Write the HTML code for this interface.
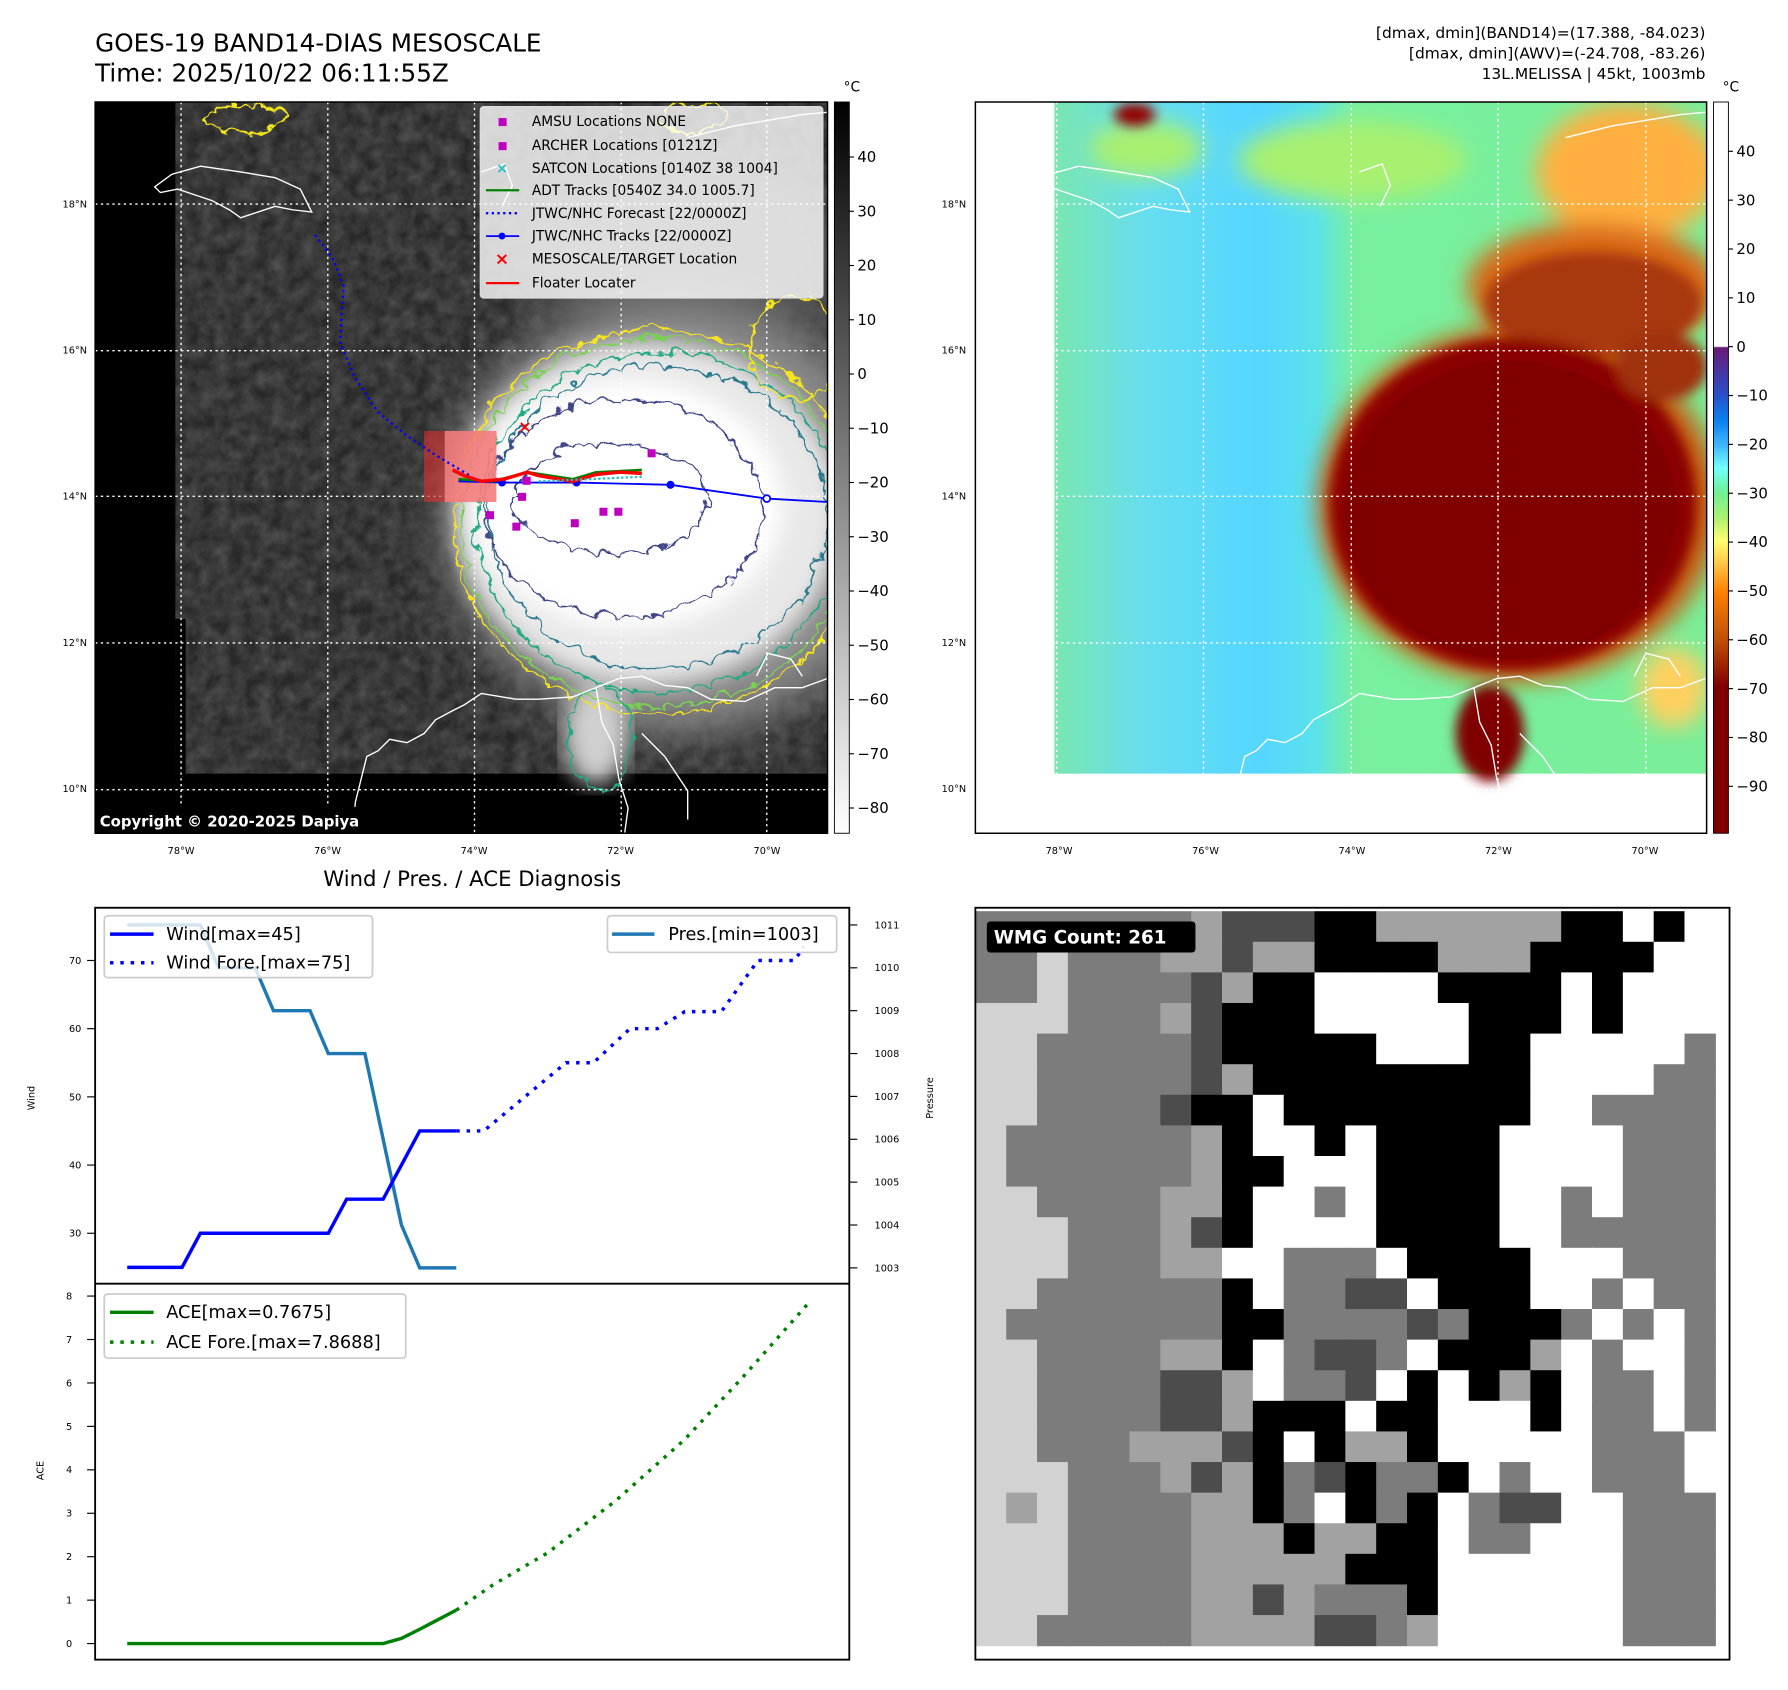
<!DOCTYPE html>
<html><head><meta charset="utf-8">
<style>
html,body{margin:0;padding:0;background:#fff;}
svg{display:block;font-family:"DejaVu Sans","Liberation Sans",sans-serif;}
</style></head>
<body>
<svg id="fig" width="1788" height="1690" viewBox="0 0 1560 1474.5" xmlns="http://www.w3.org/2000/svg">
<defs>
  <filter id="noise" x="0" y="0" width="100%" height="100%">
    <feTurbulence type="fractalNoise" baseFrequency="0.08" numOctaves="3" seed="4" result="n"/>
    <feColorMatrix type="matrix" values="0 0 0 0 0.2  0 0 0 0 0.2  0 0 0 0 0.2  0.7 0 0 0 -0.15" in="n" result="c"/>
    <feComposite in="c" in2="SourceGraphic" operator="in"/>
  </filter>
  <filter id="blur20"><feGaussianBlur stdDeviation="20"/></filter>
  <filter id="blur10"><feGaussianBlur stdDeviation="10"/></filter>
  <filter id="blur5"><feGaussianBlur stdDeviation="5"/></filter>
  <filter id="jag" x="-20%" y="-20%" width="140%" height="140%">
    <feTurbulence type="turbulence" baseFrequency="0.05" numOctaves="2" seed="7" result="t"/>
    <feDisplacementMap in="SourceGraphic" in2="t" scale="14" xChannelSelector="R" yChannelSelector="G"/>
  </filter>
  <linearGradient id="cb1" x1="0" y1="0" x2="0" y2="1">
    <stop offset="0" stop-color="#000"/><stop offset="1" stop-color="#fff"/>
  </linearGradient>
  <linearGradient id="cb2" x1="0" y1="0" x2="0" y2="1">
    <stop offset="0" stop-color="#fff"/><stop offset="0.334" stop-color="#fff"/>
    <stop offset="0.336" stop-color="#6a1a78"/>
    <stop offset="0.40" stop-color="#2a50c8"/>
    <stop offset="0.435" stop-color="#0a80f0"/>
    <stop offset="0.47" stop-color="#40b8ff"/>
    <stop offset="0.50" stop-color="#70ffff"/>
    <stop offset="0.535" stop-color="#70f090"/>
    <stop offset="0.57" stop-color="#b0f070"/>
    <stop offset="0.60" stop-color="#ffff70"/>
    <stop offset="0.635" stop-color="#ffc040"/>
    <stop offset="0.67" stop-color="#ff8000"/>
    <stop offset="0.735" stop-color="#c05008"/>
    <stop offset="0.80" stop-color="#800000"/>
    <stop offset="1" stop-color="#800000"/>
  </linearGradient>
  <linearGradient id="rbase" x1="0" y1="0" x2="1" y2="0">
    <stop offset="0" stop-color="#7ae6b0"/>
    <stop offset="0.14" stop-color="#66def0"/>
    <stop offset="0.32" stop-color="#55d6ff"/>
    <stop offset="0.40" stop-color="#5ae2ea"/>
    <stop offset="0.46" stop-color="#78f0a0"/>
    <stop offset="1" stop-color="#7aee98"/>
  </linearGradient>
  <clipPath id="clipL"><rect x="83" y="89" width="639" height="638"/></clipPath>
  <clipPath id="clipR"><rect x="851" y="89" width="638" height="638"/></clipPath>
</defs>

<text x="83" y="45" font-size="21.5">GOES-19 BAND14-DIAS MESOSCALE</text>
<text x="83" y="71" font-size="21.5">Time: 2025/10/22 06:11:55Z</text>
<g font-size="13.5" text-anchor="end">
  <text x="1488" y="33">[dmax, dmin](BAND14)=(17.388, -84.023)</text>
  <text x="1488" y="51">[dmax, dmin](AWV)=(-24.708, -83.26)</text>
  <text x="1488" y="69">13L.MELISSA | 45kt, 1003mb</text>
</g>

<g clip-path="url(#clipL)">
  <rect x="83" y="89" width="639" height="638" fill="#000"/>
  <rect x="153" y="89" width="569" height="586" fill="#282828"/>
  <rect x="153" y="89" width="569" height="586" fill="#fff" filter="url(#noise)"/>
  <rect x="153" y="540" width="9" height="140" fill="#000"/>
  <ellipse cx="600" cy="220" rx="150" ry="80" fill="#555" filter="url(#blur20)"/>
  <ellipse cx="590" cy="450" rx="200" ry="190" fill="#8a8a8a" filter="url(#blur20)"/>
  <ellipse cx="565" cy="448" rx="168" ry="150" fill="#e8e8e8" filter="url(#blur10)"/>
  <ellipse cx="548" cy="440" rx="135" ry="108" fill="#fff" filter="url(#blur10)"/>
  <ellipse cx="520" cy="640" rx="28" ry="45" fill="#d0d0d0" filter="url(#blur10)"/>
  <g fill="none" stroke-width="1.6" filter="url(#jag)">
    <ellipse cx="570" cy="452" rx="178" ry="168" stroke="#f5e51a"/>
    <ellipse cx="570" cy="452" rx="171" ry="161" stroke="#7ad151"/>
    <ellipse cx="572" cy="452" rx="160" ry="148" stroke="#22a884"/>
    <ellipse cx="570" cy="448" rx="148" ry="132" stroke="#2a788e"/>
    <ellipse cx="540" cy="440" rx="122" ry="95" stroke="#414487"/>
    <ellipse cx="530" cy="432" rx="85" ry="48" stroke="#414487"/>
    <ellipse cx="600" cy="100" rx="30" ry="12" stroke="#f5e51a"/>
    <ellipse cx="210" cy="100" rx="35" ry="12" stroke="#f5e51a"/>
    <ellipse cx="520" cy="640" rx="28" ry="45" stroke="#22a884"/>
    <ellipse cx="690" cy="300" rx="40" ry="45" stroke="#f5e51a"/>
  </g>
  <g stroke="#fff" stroke-width="1.2" stroke-dasharray="2,3">
    <line x1="158" y1="89" x2="158" y2="727"/><line x1="286" y1="89" x2="286" y2="727"/>
    <line x1="414" y1="89" x2="414" y2="727"/><line x1="542" y1="89" x2="542" y2="727"/>
    <line x1="669" y1="89" x2="669" y2="727"/>
    <line x1="83" y1="178" x2="722" y2="178"/><line x1="83" y1="306" x2="722" y2="306"/>
    <line x1="83" y1="433" x2="722" y2="433"/><line x1="83" y1="561" x2="722" y2="561"/>
    <line x1="83" y1="689" x2="722" y2="689"/>
  </g>
  <g id="coastL" fill="none" stroke="#fff" stroke-width="1.2">
    <path d="M135,163 L150,152 L175,145 L210,150 L240,155 L262,165 L272,185 L255,183 L240,180 L225,185 L210,190 L200,183 L185,175 L170,170 L155,165 L140,168 Z"/>
    <path d="M420,150 L440,143 L447,162 L438,180 M600,120 L640,110 L700,100 L722,98"/>
    <path d="M722,592 L700,600 L676,600 L650,612 L620,610 L600,600 L580,598 L560,590 L540,592 L520,600 L500,608 L470,610 L450,610 L420,605 L405,615 L395,620 L380,628 L370,640 L355,648 L340,645 L330,655 L320,660 L315,680 L310,700 L308,727"/>
    <path d="M520,600 L525,630 L535,650 L540,680 L548,705 L545,727 M560,640 L580,660 L600,690 L600,715 M660,590 L670,570 L690,575 L700,590"/>
  </g>
  <rect x="370" y="376" width="63" height="62" fill="#d03030" opacity="0.65"/>
  <rect x="388" y="376" width="45" height="62" fill="#ff9090" opacity="0.7"/>
  <polyline points="275,205 290,225 300,250 298,275 297,300 310,330 330,360 355,380 380,397 410,415" fill="none" stroke="#0000ff" stroke-width="2" stroke-dasharray="2,3"/>
  <polyline points="400,420 438,421 503,421 585,423 669,435 722,438" fill="none" stroke="#0000ff" stroke-width="1.6"/>
  <g fill="#0000ff"><circle cx="438" cy="421" r="3.5"/><circle cx="503" cy="421" r="3.5"/><circle cx="585" cy="423" r="3.5"/></g>
  <circle cx="669" cy="435" r="3" fill="#fff" stroke="#0000ff" stroke-width="1.5"/>
  <polyline points="400,418 430,420 460,412 500,418 520,412 560,410" fill="none" stroke="#008000" stroke-width="2.2"/>
  <polyline points="395,410 405,415 420,420 440,418 460,412 470,415 500,420 520,414 540,412 560,413" fill="none" stroke="#ff0000" stroke-width="3"/>
  <polyline points="470,420 560,416" fill="none" stroke="#20c0c0" stroke-width="2" stroke-dasharray="2,2"/>
  <g fill="#c000c0">
    <rect x="565" y="392" width="7" height="7"/><rect x="452" y="430" width="7" height="7"/>
    <rect x="424" y="446" width="7" height="7"/><rect x="447" y="456" width="7" height="7"/>
    <rect x="498" y="453" width="7" height="7"/><rect x="523" y="443" width="7" height="7"/>
    <rect x="536" y="443" width="7" height="7"/><rect x="456" y="416" width="7" height="7"/>
  </g>
  <text x="458" y="377" font-size="14" fill="#ff0000" text-anchor="middle" font-weight="bold">×</text>
  <g>
    <rect x="419" y="93" width="299" height="167" rx="3" fill="#fff" fill-opacity="0.8" stroke="#ddd"/>
    <g font-size="12">
      <rect x="435" y="103" width="7" height="7" fill="#c000c0"/><text x="464" y="110">AMSU Locations NONE</text>
      <rect x="435" y="124" width="7" height="7" fill="#c000c0"/><text x="464" y="131">ARCHER Locations [0121Z]</text>
      <text x="438" y="151" fill="#20c0c0" text-anchor="middle" font-weight="bold">×</text><text x="464" y="151">SATCON Locations [0140Z 38 1004]</text>
      <line x1="424" y1="166" x2="453" y2="166" stroke="#008000" stroke-width="2"/><text x="464" y="170">ADT Tracks [0540Z 34.0 1005.7]</text>
      <line x1="424" y1="186" x2="453" y2="186" stroke="#0000ff" stroke-width="2" stroke-dasharray="2,3"/><text x="464" y="190">JTWC/NHC Forecast [22/0000Z]</text>
      <line x1="424" y1="206" x2="453" y2="206" stroke="#0000ff" stroke-width="1.6"/><circle cx="438" cy="206" r="3" fill="#0000ff"/><text x="464" y="210">JTWC/NHC Tracks [22/0000Z]</text>
      <text x="438" y="231" fill="#ff0000" text-anchor="middle" font-size="15" font-weight="bold">×</text><text x="464" y="230">MESOSCALE/TARGET Location</text>
      <line x1="424" y1="247" x2="453" y2="247" stroke="#ff0000" stroke-width="2"/><text x="464" y="251">Floater Locater</text>
    </g>
  </g>
  <rect x="83" y="704" width="272" height="23" fill="#000" rx="2"/>
  <text x="87" y="721" font-size="13" fill="#fff" font-weight="bold">Copyright © 2020-2025 Dapiya</text>
</g>
<rect x="83" y="89" width="639" height="638" fill="none" stroke="#000" stroke-width="1.3"/>
<rect x="728" y="89" width="13" height="638" fill="url(#cb1)" stroke="#000" stroke-width="0.8"/>
<text x="736" y="80" font-size="12">°C</text>
<g id="cb1ticks" font-size="13"></g>

<g clip-path="url(#clipR)">
  <rect x="851" y="89" width="638" height="638" fill="#fff"/>
  <rect x="920" y="89" width="569" height="586" fill="url(#rbase)"/>
  <g filter="url(#blur10)">
    <ellipse cx="1000" cy="130" rx="50" ry="25" fill="#a8f070"/>
    <ellipse cx="1180" cy="140" rx="100" ry="35" fill="#a8f070"/>
    <ellipse cx="1420" cy="150" rx="80" ry="60" fill="#ffb040"/>
    <ellipse cx="1390" cy="250" rx="110" ry="55" fill="#d86818"/>
    <ellipse cx="1325" cy="440" rx="175" ry="155" fill="#c85810"/>
    <ellipse cx="1460" cy="600" rx="30" ry="35" fill="#ffd060"/>
  </g>
  <g filter="url(#blur5)">
    <ellipse cx="1390" cy="265" rx="95" ry="45" fill="#a83808"/>
    <ellipse cx="1320" cy="440" rx="160" ry="145" fill="#8a0404"/>
    <ellipse cx="1300" cy="640" rx="30" ry="42" fill="#800000"/>
    <ellipse cx="990" cy="100" rx="18" ry="10" fill="#900000"/>
    <ellipse cx="1450" cy="320" rx="40" ry="30" fill="#a03010"/>
  </g>
  <ellipse cx="1318" cy="445" rx="145" ry="130" fill="#800000"/>
  <g stroke="#fff" stroke-width="1.2" stroke-dasharray="2,3">
    <line x1="922" y1="89" x2="922" y2="727"/><line x1="1050" y1="89" x2="1050" y2="727"/>
    <line x1="1179" y1="89" x2="1179" y2="727"/><line x1="1307" y1="89" x2="1307" y2="727"/>
    <line x1="1436" y1="89" x2="1436" y2="727"/>
    <line x1="851" y1="178" x2="1489" y2="178"/><line x1="851" y1="306" x2="1489" y2="306"/>
    <line x1="851" y1="433" x2="1489" y2="433"/><line x1="851" y1="561" x2="1489" y2="561"/>
    <line x1="851" y1="689" x2="1489" y2="689"/>
  </g>
  <use href="#coastL" transform="translate(766,0)"/>
</g>
<rect x="851" y="89" width="638" height="638" fill="none" stroke="#000" stroke-width="1.3"/>
<rect x="1495" y="89" width="13" height="638" fill="url(#cb2)" stroke="#000" stroke-width="0.8"/>
<text x="1503" y="80" font-size="12">°C</text>
<g id="cb2ticks" font-size="13"></g>

<g id="mapticks" font-size="8.5"></g>

<text x="412" y="773" font-size="18.5" text-anchor="middle">Wind / Pres. / ACE Diagnosis</text>
<rect x="83" y="792" width="658" height="656" fill="#fff" stroke="#000" stroke-width="1.6"/>
<line x1="83" y1="1120" x2="741" y2="1120" stroke="#000" stroke-width="1.6"/>
<g id="chart"></g>
<text transform="translate(30,958) rotate(-90)" font-size="8.5" text-anchor="middle">Wind</text>
<text transform="translate(814,958) rotate(-90)" font-size="8.5" text-anchor="middle">Pressure</text>
<text transform="translate(38,1283) rotate(-90)" font-size="8.5" text-anchor="middle">ACE</text>
<g>
  <rect x="91" y="799" width="234" height="54" rx="3" fill="#fff" fill-opacity="0.8" stroke="#ccc" stroke-width="1.5"/>
  <line x1="96" y1="815" x2="134" y2="815" stroke="#0000ff" stroke-width="3"/>
  <text x="145" y="820" font-size="15.5">Wind[max=45]</text>
  <line x1="96" y1="840" x2="134" y2="840" stroke="#0000ff" stroke-width="3" stroke-dasharray="3,6"/>
  <text x="145" y="845" font-size="15.5">Wind Fore.[max=75]</text>
</g>
<g>
  <rect x="530" y="799" width="200" height="32" rx="3" fill="#fff" fill-opacity="0.8" stroke="#ccc" stroke-width="1.5"/>
  <line x1="534" y1="815" x2="571" y2="815" stroke="#1f77b4" stroke-width="3"/>
  <text x="583" y="820" font-size="15.5">Pres.[min=1003]</text>
</g>
<g>
  <rect x="91" y="1129" width="263" height="56" rx="3" fill="#fff" fill-opacity="0.8" stroke="#ccc" stroke-width="1.5"/>
  <line x1="96" y1="1145" x2="134" y2="1145" stroke="#008000" stroke-width="3"/>
  <text x="145" y="1150" font-size="15.5">ACE[max=0.7675]</text>
  <line x1="96" y1="1171" x2="134" y2="1171" stroke="#008000" stroke-width="3" stroke-dasharray="3,6"/>
  <text x="145" y="1176" font-size="15.5">ACE Fore.[max=7.8688]</text>
</g>

<rect x="851" y="792" width="658" height="656" fill="#fff"/>
<g id="wmg"></g>
<rect x="851" y="792" width="658" height="656" fill="none" stroke="#000" stroke-width="1.6"/>
<rect x="861" y="804" width="182" height="27" rx="3" fill="#000"/>
<text x="867" y="823" font-size="16" font-weight="bold" fill="#fff">WMG Count: 261</text>
</svg>

<script>
const obsHours = [0,6,12,18,24,30,36,42,48,54,60,66,72,78,84,90,96,102,108];
const windObs = [25,25,25,25,30,30,30,30,30,30,30,30,35,35,35,40,45,45,45];
const presObs = [1011,1011,1011,1011,1011,1010,1010,1010,1009,1009,1009,1008,1008,1008,1006,1004,1003,1003,1003];
const aceObs = [0,0,0,0,0,0,0,0,0,0,0,0,0,0,0,0.12,0.33,0.55,0.77];
const windFcstHours = [108,117,144,153,165,174,183,195,207,219,222];
const windFcst = [45,45,55,55,60,60,62.5,62.5,70,70,72];
const aceFcstHours = [108,120,138,160,183,202,224];
const aceFcst = [0.77,1.35,2.09,3.27,4.7,6.13,7.87];
const windTicks = [30,40,50,60,70];
const presTicks = [1003,1004,1005,1006,1007,1008,1009,1010,1011];
const aceTicks = [0,1,2,3,4,5,6,7,8];
const cb1Ticks = [40,30,20,10,0,-10,-20,-30,-40,-50,-60,-70,-80];
const cb2Ticks = [40,30,20,10,0,-10,-20,-30,-40,-50,-60,-70,-80,-90];
const latLabels = ["18°N","16°N","14°N","12°N","10°N"];
const latValues = [18,16,14,12,10];
const lonLabels = ["78°W","76°W","74°W","72°W","70°W"];
const lonValues = [-78,-76,-74,-72,-70];

const NS = "http://www.w3.org/2000/svg";
const xT = h => 111 + h * 15.95 / 6;
const yW = v => 838 + (70 - v) * 5.95;
const yP = p => 807 + (1011 - p) * 37.4;
const yA = a => 1434 - a * 37.9;
const yCb1 = v => 137 + (40 - v) * 4.733;
const yCb2 = v => 132 + (40 - v) * 4.262;
const lonX = lon => 158 + (lon + 78) * 63.9;
const latY = lat => 178 + (18 - lat) * 63.75;

function mk(tag, attrs, parent) {
  const e = document.createElementNS(NS, tag);
  for (const k in attrs) e.setAttribute(k, attrs[k]);
  parent.appendChild(e);
  return e;
}
function pts(xs, ys, fx, fy) { return xs.map((x, i) => fx(x) + "," + fy(ys[i])).join(" "); }

const chart = document.getElementById("chart");
let l;
l = mk("polyline", {points: pts(obsHours, presObs, xT, yP), fill: "none", stroke: "#1f77b4", "stroke-width": 3}, chart);


l = mk("polyline", {points: pts(obsHours, windObs, xT, yW), fill: "none", stroke: "#0000ff", "stroke-width": 3}, chart);


l = mk("polyline", {points: pts(windFcstHours, windFcst, xT, yW), fill: "none", stroke: "#0000ff", "stroke-width": 3, "stroke-dasharray": "3,6"}, chart);


l = mk("polyline", {points: pts(obsHours, aceObs, xT, yA), fill: "none", stroke: "#008000", "stroke-width": 3}, chart);


l = mk("polyline", {points: pts(aceFcstHours, aceFcst, xT, yA), fill: "none", stroke: "#008000", "stroke-width": 3, "stroke-dasharray": "3,6"}, chart);



windTicks.forEach(v => {
  mk("line", {x1: 76, x2: 83, y1: yW(v), y2: yW(v), stroke: "#000"}, chart);
  const t = mk("text", {x: 71, y: yW(v) + 3, "font-size": 8.5, "text-anchor": "end"}, chart);
  t.textContent = v;
  
  
});
presTicks.forEach(v => {
  mk("line", {x1: 741, x2: 748, y1: yP(v), y2: yP(v), stroke: "#000"}, chart);
  const t = mk("text", {x: 763, y: yP(v) + 3, "font-size": 8.5}, chart);
  t.textContent = v;
  
  
});
aceTicks.forEach(v => {
  mk("line", {x1: 76, x2: 83, y1: yA(v), y2: yA(v), stroke: "#000"}, chart);
  const t = mk("text", {x: 63, y: yA(v) + 3, "font-size": 8.5, "text-anchor": "end"}, chart);
  t.textContent = v;
  
  
});

const fmt = v => v < 0 ? "\u2212" + Math.abs(v) : String(v);
const cb1 = document.getElementById("cb1ticks");
cb1Ticks.forEach(v => {
  mk("line", {x1: 741, x2: 745, y1: yCb1(v), y2: yCb1(v), stroke: "#000"}, cb1);
  const t = mk("text", {x: 748, y: yCb1(v) + 4.5}, cb1);
  t.textContent = fmt(v);
  
  
});
const cb2 = document.getElementById("cb2ticks");
cb2Ticks.forEach(v => {
  mk("line", {x1: 1508, x2: 1512, y1: yCb2(v), y2: yCb2(v), stroke: "#000"}, cb2);
  const t = mk("text", {x: 1515, y: yCb2(v) + 4.5}, cb2);
  t.textContent = fmt(v);
  
  
});

const mt = document.getElementById("mapticks");
[0, 766].forEach((off, mi) => {
  latValues.forEach((lat, i) => {
    const t = mk("text", {x: (mi ? 843 : 76), y: latY(lat) + 3, "text-anchor": "end"}, mt);
    t.textContent = latLabels[i];
    
    
  });
  lonValues.forEach((lon, i) => {
    const t = mk("text", {x: lonX(lon) + off, y: 745, "text-anchor": "middle"}, mt);
    t.textContent = lonLabels[i];
    
    
  });
});

const wmgRows = [
"gggggggmddd_KmmmmmmKKWKWW",
"gglgggmmdmmKKKKmmmKKKKWW",
"gglggggdmKKWWWWKKKKWKWWW",
"lllgggmdKKKWWWWWKKKWKWWW",
"llgggggdKKKKKWWWKKWWWWWg",
"llgggggdmKKKKKKKKKWWWWgg",
"llggggdKKWKKKKKKKKWWgggg",
"lggggggmKWWKWKKKKWWWWggg",
"lggggggmKKWWWKKKKWWWWggg",
"llggggmmKWWgWKKKKWWgWggg",
"lllgggmdKWWWWKKKKWWggggg",
"lllgggmmWWgggWKKKKWWWggg",
"llggggggKWggddWKKKWWgWgg",
"lgggggggKKggggdgKKKgWgWgg",
"llggggmmKWgddgWKKKmWgWWg",
"llggggddmWggdWKWKmKWggWg",
"llggggddmKKKWKKWWWKWggWg",
"llgggmmmdKWKmmKWWWWWgggW",
"lllgggmdmKgdKggKWgWWgggW",
"lmlggggmmKgWKgKWgddWWggg",
"lllggggmmmKmmKKWggWWWggg",
"lllggggmmmmmKKKWWWWWWggg",
"lllggggmmdmgggKWWWWWWggg",
"llgggggmmmmddgmWWWWWWggg"
];
const wmgColors = {l:"#d2d2d2", g:"#7c7c7c", m:"#a2a2a2", d:"#4c4c4c", K:"#000000", W:"#ffffff", _:"#000000"};
const wmg = document.getElementById("wmg");
const cw = 26.9, ch = 26.7;
wmgRows.forEach((row, r) => {
  for (let c = 0; c < 24; c++) {
    const ch0 = row[c] || "W";
    const cell = mk("rect", {x: 851 + c * cw, y: 795 + r * ch, width: cw + 0.5, height: ch + 0.5, fill: wmgColors[ch0]}, wmg);
    
    
  }
});
</script>
</body></html>
